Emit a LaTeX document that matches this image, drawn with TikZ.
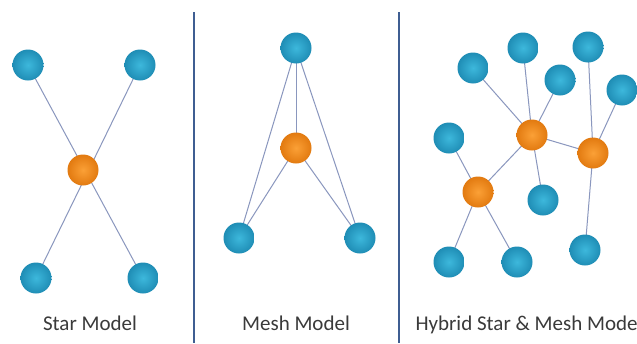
\documentclass[tikz,border=0pt]{standalone}
\usepackage{fontspec}
\setmainfont{Carlito}
\usetikzlibrary{backgrounds}
\definecolor{bluein}{HTML}{3DB8DC}
\definecolor{blueout}{HTML}{1F8DB5}
\definecolor{orgin}{HTML}{FBA036}
\definecolor{orgout}{HTML}{E27A10}
\definecolor{edgec}{HTML}{8A97BE}
\definecolor{divc}{HTML}{3F5E92}
\definecolor{txtc}{HTML}{3A3A3A}
\tikzset{
  bnode/.style={circle,minimum size=31pt,inner sep=0pt,shading=radial,inner color=bluein,outer color=blueout},
  onode/.style={circle,minimum size=31pt,inner sep=0pt,shading=radial,inner color=orgin,outer color=orgout},
  link/.style={draw=edgec,line width=1pt},
  divider/.style={draw=divc,line width=2pt},
  caption/.style={font=\fontsize{21pt}{24pt}\selectfont,text=txtc,anchor=base}
}
\begin{document}
\begin{tikzpicture}[x=1pt,y=-1pt]
\useasboundingbox (0,0) rectangle (637,343);
% dividers
\coordinate (d1t) at (194,12); \coordinate (d1b) at (194,343);
\coordinate (d2t) at (399,12); \coordinate (d2b) at (399,343);
\draw[divider] (d1t) -- (d1b);
\draw[divider] (d2t) -- (d2b);
% Star model
\node[bnode] (s1) at (28,65) {};
\node[bnode] (s2) at (140,65) {};
\node[onode] (sc) at (83,170) {};
\node[bnode] (s3) at (36,278) {};
\node[bnode] (s4) at (143,278) {};
\node[caption] (st) at (90,330) {Star Model};
% Mesh model
\node[bnode] (m1) at (296,48) {};
\node[onode] (mc) at (296,148) {};
\node[bnode] (m2) at (239,238) {};
\node[bnode] (m3) at (360,238) {};
\node[caption] (mt) at (296,330) {Mesh Model};
% Hybrid
\node[bnode] (hA) at (473,68) {};
\node[bnode] (hB) at (523,48) {};
\node[bnode] (hC) at (588,47) {};
\node[bnode] (hD) at (560,80) {};
\node[bnode] (hE) at (622,90) {};
\node[bnode] (hF) at (449,138) {};
\node[onode] (o1) at (532,135) {};
\node[onode] (o2) at (593,153) {};
\node[onode] (o3) at (478,192) {};
\node[bnode] (hG) at (543,200) {};
\node[bnode] (hH) at (449,262) {};
\node[bnode] (hI) at (517,262) {};
\node[bnode] (hJ) at (585,250) {};
\node[caption,anchor=base west] (ht) at (412,330) {Hybrid Star \& Mesh Model};
% edges behind nodes
\begin{scope}[on background layer]
\fill[white] (0,0) rectangle (637,343);
\draw[link] (s1.center) -- (s4.center);
\draw[link] (s2.center) -- (s3.center);
\draw[link] (m1.center) -- (m2.center);
\draw[link] (m1.center) -- (m3.center);
\draw[link] (m1.center) -- (mc.center);
\draw[link] (mc.center) -- (m2.center);
\draw[link] (mc.center) -- (m3.center);
\draw[link] (hA.center) -- (o1.center);
\draw[link] (hB.center) -- (o1.center);
\draw[link] (hD.center) -- (o1.center);
\draw[link] (o1.center) -- (o2.center);
\draw[link] (o1.center) -- (o3.center);
\draw[link] (o1.center) -- (hG.center);
\draw[link] (hC.center) -- (o2.center);
\draw[link] (hE.center) -- (o2.center);
\draw[link] (o2.center) -- (hJ.center);
\draw[link] (hF.center) -- (o3.center);
\draw[link] (o3.center) -- (hH.center);
\draw[link] (o3.center) -- (hI.center);
\end{scope}
\end{tikzpicture}
\end{document}
